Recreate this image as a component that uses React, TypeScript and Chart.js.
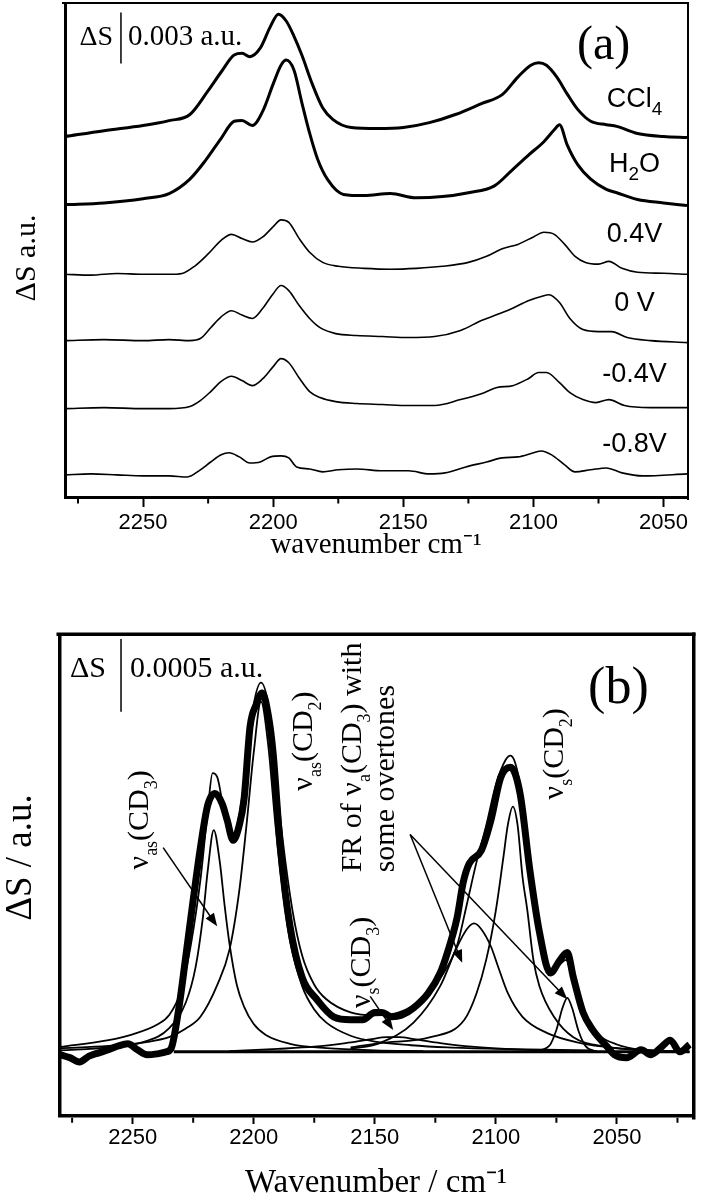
import React, { useEffect, useRef } from "react";
import { Chart, registerables } from "chart.js";

Chart.register(...registerables);

const SERIF = '"Liberation Serif", "Times New Roman", serif';
const SANS = '"Liberation Sans", Arial, sans-serif';

// ---------------- Panel (a): stacked spectra (ΔS in 10^-3 a.u.) ----------------
const aLabels = ["CCl4", "H2O", "0.4V", "0 V", "-0.4V", "-0.8V"];
const aOffsets = [21.2, 17.2, 13.1, 9.2, 5.2, 1.3];
const aTicks = [2250, 2200, 2150, 2100, 2050];
const aMinorTicks = [2275, 2225, 2175, 2125, 2075];

const wnCCl4 = [2280, 2265, 2250, 2240, 2232, 2225, 2220, 2215, 2212, 2209, 2205, 2201, 2198, 2195, 2192, 2189, 2185, 2181, 2177, 2170, 2160, 2150, 2140, 2130, 2120, 2112, 2106, 2101, 2098, 2095, 2091, 2087, 2083, 2078, 2072, 2068, 2060, 2050, 2041];
const sCCl4 = [0, 0.35, 0.65, 0.94, 1.3, 2.7, 3.8, 4.8, 4.9, 4.7, 5.2, 6.5, 7.2, 6.8, 5.9, 4.8, 3.1, 1.7, 1.0, 0.53, 0.47, 0.53, 0.82, 1.3, 1.94, 2.47, 3.5, 4.2, 4.35, 4.2, 3.5, 2.5, 1.6, 0.9, 0.7, 0.6, 0.18, 0, -0.06];

const wnH2O = [2280, 2265, 2250, 2240, 2232, 2226, 2220, 2215, 2212, 2208, 2204, 2200, 2197, 2195, 2192, 2189, 2186, 2183, 2179, 2173, 2165, 2155, 2145, 2135, 2125, 2115, 2108, 2102, 2096, 2092, 2090, 2087, 2083, 2078, 2072, 2068, 2060, 2050, 2041];
const sH2O = [0, 0.1, 0.35, 0.65, 1.5, 2.6, 3.9, 4.9, 4.95, 4.65, 5.5, 7.1, 8.2, 8.5, 7.9, 6.0, 4.2, 2.7, 1.45, 0.6, 0.53, 0.65, 0.4, 0.47, 0.7, 1.1, 2.06, 2.9, 3.7, 4.4, 4.7, 3.5, 2.35, 1.5, 0.9, 0.7, 0.3, 0.1, -0.06];

const wnP04 = [2280, 2270, 2260, 2250, 2240, 2235, 2230, 2225, 2220, 2216, 2212, 2208, 2204, 2200, 2197, 2194, 2190, 2186, 2181, 2175, 2165, 2155, 2145, 2135, 2125, 2118, 2112, 2106, 2100, 2096, 2092, 2088, 2084, 2080, 2075, 2071, 2066, 2060, 2050, 2041];
const sP04 = [0, -0.05, 0.05, 0, 0, 0.05, 0.5, 1.2, 2.0, 2.35, 2.1, 1.9, 2.2, 2.8, 3.2, 3.05, 2.1, 1.3, 0.7, 0.47, 0.35, 0.3, 0.35, 0.47, 0.7, 1.06, 1.5, 1.76, 2.2, 2.47, 2.35, 1.76, 1.06, 0.7, 0.6, 0.76, 0.35, 0.12, 0.06, 0];

const wn0V = [2280, 2265, 2250, 2240, 2232, 2228, 2224, 2220, 2216, 2212, 2208, 2204, 2200, 2197, 2194, 2190, 2186, 2182, 2176, 2168, 2158, 2148, 2138, 2128, 2120, 2114, 2108, 2102, 2097, 2094, 2090, 2086, 2081, 2075, 2070, 2064, 2055, 2041];
const s0V = [0, 0.06, 0, 0.06, 0, 0.12, 0.76, 1.4, 1.76, 1.5, 1.3, 1.9, 2.76, 3.24, 2.94, 2.06, 1.3, 0.76, 0.41, 0.3, 0.24, 0.18, 0.24, 0.6, 1.18, 1.53, 1.9, 2.35, 2.6, 2.7, 2.24, 1.3, 0.65, 0.53, 0.53, 0.18, 0, -0.12];

const wnM04 = [2280, 2265, 2250, 2240, 2232, 2228, 2224, 2220, 2216, 2212, 2208, 2204, 2200, 2197, 2194, 2190, 2186, 2182, 2176, 2168, 2158, 2148, 2138, 2128, 2120, 2114, 2108, 2102, 2098, 2095, 2090, 2086, 2081, 2076, 2071, 2065, 2055, 2041];
const sM04 = [0, 0.06, 0, 0, 0.12, 0.47, 1.0, 1.6, 1.9, 1.65, 1.35, 1.76, 2.47, 2.94, 2.7, 1.8, 1.0, 0.65, 0.41, 0.3, 0.24, 0.18, 0.18, 0.53, 0.88, 1.24, 1.35, 1.76, 2.12, 2.12, 1.53, 0.94, 0.53, 0.35, 0.53, 0.18, 0.06, 0.06];

const wnM08 = [2280, 2270, 2260, 2250, 2240, 2233, 2228, 2224, 2220, 2217, 2213, 2209, 2205, 2201, 2197, 2194, 2191, 2186, 2181, 2175, 2168, 2158, 2148, 2140, 2134, 2126, 2118, 2112, 2106, 2100, 2097, 2093, 2088, 2084, 2078, 2072, 2066, 2058, 2041];
const sM08 = [0, 0.06, 0, -0.06, -0.06, -0.12, 0.3, 0.76, 1.18, 1.3, 1.06, 0.7, 0.76, 1.06, 1.12, 1.0, 0.47, 0.35, 0.18, 0.3, 0.35, 0.24, 0.24, 0.06, 0.12, 0.47, 0.76, 1.0, 1.06, 1.3, 1.41, 1.18, 0.59, 0.18, 0.3, 0.41, 0.12, -0.06, 0.06];

// ---------------- Panel (b): spectrum and fit (ΔS in 10^-4 a.u.) ----------------
const bTicks = [2250, 2200, 2150, 2100, 2050];
const bMinorTicks = [2275, 2225, 2175, 2125, 2075, 2025];

const wnExp = [2280, 2276, 2272, 2268, 2264, 2260, 2256, 2252, 2248, 2244, 2240, 2236, 2234, 2231, 2228, 2225, 2222, 2219, 2216, 2213, 2211, 2208.5, 2206, 2204, 2201.5, 2199, 2196.5, 2194, 2192, 2189, 2185, 2180, 2174, 2167, 2160, 2155, 2150, 2147, 2143, 2139, 2134, 2128, 2123, 2120, 2116, 2113.5, 2111, 2106, 2102, 2098, 2094, 2090, 2086, 2082, 2077.5, 2073.5, 2070.5, 2068, 2064, 2060, 2054, 2051, 2046, 2040, 2036, 2032, 2028, 2024, 2020];
const sExp = [-0.2, -0.4, -0.7, -0.3, -0.07, 0.14, 0.4, 0.55, 0.14, -0.2, -0.14, 0, 0.27, 2.9, 6.6, 10.4, 14.0, 16.9, 17.7, 17.0, 15.9, 14.5, 15.5, 17.3, 22.3, 23.8, 24.6, 23.1, 20.5, 14.0, 8.6, 5.1, 3.6, 2.4, 2.2, 2.2, 2.7, 2.7, 2.4, 2.5, 3.0, 4.0, 5.4, 6.8, 9.2, 11.6, 12.9, 13.8, 15.9, 18.8, 19.5, 17.7, 12.5, 8.2, 5.4, 6.3, 6.8, 5.1, 2.7, 1.5, 0.34, -0.2, -0.4, 0.14, -0.2, 0.27, 0.8, 0, 0.5];

const wnFit = [2280, 2260, 2250, 2240, 2235, 2230, 2226, 2222, 2219, 2217, 2215, 2212, 2209, 2206, 2203, 2200, 2197, 2194, 2191, 2188, 2184, 2180, 2175, 2170, 2160, 2150, 2140, 2130, 2122, 2116, 2112, 2108, 2104, 2100, 2096, 2094, 2092, 2089, 2085, 2081, 2077, 2073.5, 2071, 2068, 2064, 2058, 2050, 2040, 2030, 2020];
const sFit = [0.34, 0.8, 1.2, 1.85, 2.5, 4.2, 7.3, 11.8, 16.5, 19.1, 18.8, 16.2, 14.6, 16.2, 19.7, 23.8, 25.3, 23.8, 19.3, 14.5, 9.7, 6.6, 4.6, 3.6, 2.7, 2.5, 2.7, 3.7, 5.3, 7.3, 10.1, 13.0, 15.5, 18.3, 20.0, 20.3, 19.8, 17.3, 11.8, 7.7, 5.6, 6.0, 6.3, 4.6, 2.5, 1.2, 0.5, 0.14, 0.07, 0];

// νas(CD3)
const wnVasCD3 = [2280, 2260, 2245, 2235, 2228, 2224, 2221, 2219, 2216.5, 2214, 2212, 2210, 2207, 2204, 2200, 2195, 2185, 2170, 2150, 2130];
const sVasCD3 = [0.1, 0.3, 0.7, 1.6, 3.4, 5.8, 9.2, 12.4, 15.2, 13.0, 10.0, 7.4, 4.6, 3.1, 1.9, 1.15, 0.55, 0.25, 0.1, 0.05];
// νas(CD2)
const wnVasCD2 = [2280, 2260, 2245, 2235, 2228, 2222, 2215, 2210, 2206, 2203, 2200, 2197, 2194, 2191, 2188, 2185, 2180, 2175, 2170, 2160, 2150, 2135, 2120, 2100, 2080, 2060];
const sVasCD2 = [0.25, 0.4, 0.65, 1.0, 1.6, 2.4, 4.6, 7.0, 11.0, 15.5, 20.5, 24.0, 21.0, 15.5, 11.0, 7.6, 4.5, 2.9, 2.0, 1.1, 0.7, 0.45, 0.3, 0.2, 0.15, 0.1];
// νs(CD3)
const wnVsCD3 = [2210, 2190, 2175, 2162, 2152, 2145, 2140, 2133, 2123, 2110, 2090, 2070];
const sVsCD3 = [0.05, 0.2, 0.35, 0.6, 0.85, 1.0, 1.0, 0.85, 0.6, 0.35, 0.15, 0.05];
// Fermi resonance band
const wnFR = [2160, 2148, 2134, 2123, 2116, 2112, 2109, 2106, 2102, 2099, 2095, 2089, 2079, 2065, 2051, 2035];
const sFR = [0.2, 0.6, 2.0, 4.5, 7.2, 8.4, 8.8, 8.4, 7.2, 5.8, 4.0, 2.4, 1.3, 0.6, 0.27, 0.1];
// νs(CD2)
const wnVsCD2 = [2160, 2148, 2127, 2113, 2108, 2104, 2100, 2097, 2095, 2093, 2091, 2089, 2087, 2084.5, 2082, 2076, 2068, 2054, 2040];
const sVsCD2 = [0.3, 0.6, 1.0, 2.2, 4.0, 6.3, 9.7, 13.2, 15.6, 16.8, 15.5, 12.0, 9.7, 6.3, 4.5, 2.4, 1.0, 0.34, 0.1];
// overtone band near 2070
const wnOvt = [2085, 2078, 2075, 2072.5, 2070.5, 2068.5, 2066, 2063, 2058];
const sOvt = [0, 0.4, 1.5, 3.0, 3.7, 3.0, 1.5, 0.4, 0];
// baseline
const wnBase = [2233, 2020];
const sBase = [0, 0];

// ---------------- helpers ----------------
type Seg = { t: string; sub?: boolean; sup?: boolean };

const pts = (xs: number[], ys: number[], off = 0) => xs.map((x, i) => ({ x, y: ys[i] + off }));

function drawRich(
  ctx: CanvasRenderingContext2D,
  segs: Seg[],
  x: number,
  y: number,
  size: number,
  family: string,
  rotate: boolean,
  align: "left" | "center" | "right",
  subScale = 0.62,
  subShift = 0.28
) {
  ctx.save();
  ctx.translate(x, y);
  if (rotate) ctx.rotate(-Math.PI / 2);
  ctx.textBaseline = "alphabetic";
  ctx.textAlign = "left";
  ctx.fillStyle = "#000";
  const fontOf = (s: Seg) => `${s.sub || s.sup ? size * subScale : size}px ${family}`;
  const widths = segs.map((s) => {
    ctx.font = fontOf(s);
    return ctx.measureText(s.t).width;
  });
  const total = widths.reduce((a, b) => a + b, 0);
  let cx = align === "center" ? -total / 2 : align === "right" ? -total : 0;
  segs.forEach((s, i) => {
    ctx.font = fontOf(s);
    const dy = s.sub ? size * subShift : s.sup ? -size * 0.38 : 0;
    ctx.fillText(s.t, cx, dy);
    cx += widths[i];
  });
  ctx.restore();
}

function arrow(ctx: CanvasRenderingContext2D, x1: number, y1: number, x2: number, y2: number) {
  const ang = Math.atan2(y2 - y1, x2 - x1);
  const L = 13;
  const W = 5;
  ctx.save();
  ctx.strokeStyle = "#000";
  ctx.fillStyle = "#000";
  ctx.lineWidth = 1.5;
  ctx.beginPath();
  ctx.moveTo(x1, y1);
  ctx.lineTo(x2 - Math.cos(ang) * L * 0.8, y2 - Math.sin(ang) * L * 0.8);
  ctx.stroke();
  ctx.beginPath();
  ctx.moveTo(x2, y2);
  ctx.lineTo(x2 - Math.cos(ang) * L - Math.sin(ang) * W, y2 - Math.sin(ang) * L + Math.cos(ang) * W);
  ctx.lineTo(x2 - Math.cos(ang) * L + Math.sin(ang) * W, y2 - Math.sin(ang) * L - Math.cos(ang) * W);
  ctx.closePath();
  ctx.fill();
  ctx.restore();
}

// annotation settings (data coordinates)
const aLabelPos = { wn: 2061.2, v: [23.53, 19.7, 15.6, 11.5, 7.35, 3.24] };
const aLabelSegs: Seg[][] = [
  [{ t: "CCl" }, { t: "4", sub: true }],
  [{ t: "H" }, { t: "2", sub: true }, { t: "O" }],
  [{ t: "0.4V" }],
  [{ t: "0 V" }],
  [{ t: "-0.4V" }],
  [{ t: "-0.8V" }],
];

const bNotes: { segs: Seg[]; wn: number; v: number }[] = [
  { segs: [{ t: "ν" }, { t: "as", sub: true }, { t: "(CD" }, { t: "3", sub: true }, { t: ")" }], wn: 2243.5, v: 12.5 },
  { segs: [{ t: "ν" }, { t: "as", sub: true }, { t: "(CD" }, { t: "2", sub: true }, { t: ")" }], wn: 2175.9, v: 17.9 },
  { segs: [{ t: "FR of ν" }, { t: "a", sub: true }, { t: "(CD" }, { t: "3", sub: true }, { t: ") with" }], wn: 2155.5, v: 12.3 },
  { segs: [{ t: "some overtones" }], wn: 2142.0, v: 12.3 },
  { segs: [{ t: "ν" }, { t: "s", sub: true }, { t: "(CD" }, { t: "3", sub: true }, { t: ")" }], wn: 2151.9, v: 3.0 },
  { segs: [{ t: "ν" }, { t: "s", sub: true }, { t: "(CD" }, { t: "2", sub: true }, { t: ")" }], wn: 2072.1, v: 17.3 },
];

const bArrows = [
  { from: [2237.4, 14.0], to: [2215.1, 8.6] },
  { from: [2151.9, 3.8], to: [2142.4, 1.5] },
  { from: [2135.4, 14.9], to: [2113.9, 6.1] },
  { from: [2135.4, 14.9], to: [2070.5, 3.6] },
];

function frameAndMinor(chart: any, minor: number[], topW: number, rightW: number, minorLen: number, borderW: number) {
  const { ctx, chartArea: ca, scales } = chart;
  const x = scales.x;
  ctx.save();
  ctx.strokeStyle = "#000";
  ctx.lineWidth = topW;
  ctx.beginPath();
  ctx.moveTo(ca.left - borderW, ca.top - topW / 2);
  ctx.lineTo(ca.right + rightW, ca.top - topW / 2);
  ctx.stroke();
  ctx.lineWidth = rightW;
  ctx.beginPath();
  ctx.moveTo(ca.right + rightW / 2, ca.top - topW);
  ctx.lineTo(ca.right + rightW / 2, ca.bottom + borderW);
  ctx.stroke();
  ctx.lineWidth = 2;
  minor.forEach((v) => {
    const px = x.getPixelForValue(v);
    ctx.beginPath();
    ctx.moveTo(px, ca.bottom + borderW / 2);
    ctx.lineTo(px, ca.bottom + borderW / 2 + minorLen);
    ctx.stroke();
  });
  ctx.restore();
}

const pluginA = {
  id: "panelA",
  afterDraw(chart: any) {
    const { ctx, scales } = chart;
    const x = scales.x;
    const y = scales.y;
    frameAndMinor(chart, aMinorTicks, 2, 2, 5, 3);
    const bx = x.getPixelForValue(2258.5);
    const by1 = y.getPixelForValue(28.5);
    const by2 = y.getPixelForValue(25.5);
    ctx.save();
    ctx.strokeStyle = "#000";
    ctx.lineWidth = 1.5;
    ctx.beginPath();
    ctx.moveTo(bx, by1);
    ctx.lineTo(bx, by2);
    ctx.stroke();
    ctx.restore();
    drawRich(ctx, [{ t: "ΔS" }], bx - 8, by1 + 32, 28, SERIF, false, "right");
    drawRich(ctx, [{ t: "0.003 a.u." }], bx + 7, by1 + 32, 29, SERIF, false, "left");
    drawRich(ctx, [{ t: "(a)" }], x.getPixelForValue(2073), y.getPixelForValue(26.5) + 0.255 * 48, 48, SERIF, false, "center");
    aLabelSegs.forEach((segs, i) => {
      const px = x.getPixelForValue(aLabelPos.wn);
      const py = y.getPixelForValue(aLabelPos.v[i]) + 0.36 * 27;
      drawRich(ctx, segs, px, py, 27, SANS, false, "center", 0.7, 0.3);
    });
  },
};

const pluginB = {
  id: "panelB",
  afterDraw(chart: any) {
    const { ctx, scales } = chart;
    const x = scales.x;
    const y = scales.y;
    frameAndMinor(chart, bMinorTicks, 3.5, 3.5, 5, 3.5);
    const bx = x.getPixelForValue(2254.8);
    const by1 = y.getPixelForValue(28.3);
    const by2 = y.getPixelForValue(23.3);
    ctx.save();
    ctx.strokeStyle = "#000";
    ctx.lineWidth = 1.5;
    ctx.beginPath();
    ctx.moveTo(bx, by1);
    ctx.lineTo(bx, by2);
    ctx.stroke();
    ctx.restore();
    drawRich(ctx, [{ t: "ΔS" }], bx - 15, by1 + 38, 30, SERIF, false, "right");
    drawRich(ctx, [{ t: "0.0005 a.u." }], bx + 9, by1 + 38, 30, SERIF, false, "left");
    drawRich(ctx, [{ t: "(b)" }], x.getPixelForValue(2049.4), y.getPixelForValue(24.8) + 0.255 * 52, 52, SERIF, false, "center");
    bNotes.forEach((n) => {
      drawRich(ctx, n.segs, x.getPixelForValue(n.wn), y.getPixelForValue(n.v), 30, SERIF, true, "left", 0.6, 0.3);
    });
    bArrows.forEach((a) => {
      arrow(
        ctx,
        x.getPixelForValue(a.from[0]),
        y.getPixelForValue(a.from[1]),
        x.getPixelForValue(a.to[0]),
        y.getPixelForValue(a.to[1])
      );
    });
  },
};

function xScale(min: number, max: number, ticks: number[], height: number, title: string, titleSize: number, tickPad: number, tickLen: number, borderW: number, titleLH: number) {
  return {
    type: "linear" as const,
    reverse: true,
    min,
    max,
    position: "bottom" as const,
    afterFit: (s: any) => {
      s.height = height;
    },
    afterBuildTicks: (s: any) => {
      s.ticks = ticks.map((v) => ({ value: v }));
    },
    ticks: {
      autoSkip: false,
      maxRotation: 0,
      padding: tickPad,
      color: "#000",
      font: { family: SANS, size: 22 },
      callback: (v: any) => String(v),
    },
    grid: {
      display: true,
      drawOnChartArea: false,
      drawTicks: true,
      tickLength: tickLen,
      tickWidth: 2,
      tickColor: "#000",
    },
    border: { display: true, color: "#000", width: borderW },
    title: {
      display: true,
      text: title,
      color: "#000",
      font: { family: SERIF, size: titleSize, lineHeight: titleLH },
      padding: { top: 0, bottom: 0 },
    },
  };
}

function yScale(min: number, max: number, width: number, title: string, titleSize: number, padTop: number, borderW: number) {
  return {
    type: "linear" as const,
    min,
    max,
    position: "left" as const,
    afterFit: (s: any) => {
      s.width = width;
    },
    ticks: { display: false },
    grid: { display: false, drawTicks: false },
    border: { display: true, color: "#000", width: borderW },
    title: {
      display: true,
      text: title,
      color: "#000",
      font: { family: SERIF, size: titleSize, lineHeight: 1 },
      padding: { top: padTop, bottom: 0 },
    },
  };
}

function PanelA() {
  const ref = useRef<HTMLCanvasElement>(null);
  useEffect(() => {
    if (!ref.current) return;
    const series = [
      [wnCCl4, sCCl4],
      [wnH2O, sH2O],
      [wnP04, sP04],
      [wn0V, s0V],
      [wnM04, sM04],
      [wnM08, sM08],
    ];
    const chart = new Chart(ref.current, {
      type: "line",
      data: {
        datasets: series.map(([xs, ys], i) => ({
          label: aLabels[i],
          data: pts(xs, ys, aOffsets[i]),
          borderColor: "#000",
          borderWidth: i < 2 ? 3 : 1.6,
          pointRadius: 0,
          cubicInterpolationMode: "monotone" as const,
          fill: false,
        })),
      },
      options: {
        animation: false,
        responsive: false,
        devicePixelRatio: 1,
        layout: { padding: { left: 0, top: 4, right: 14, bottom: 0 } },
        plugins: { legend: { display: false }, tooltip: { enabled: false } },
        scales: {
          x: xScale(2041, 2280, aTicks, 63, "wavenumber cm⁻¹", 29, 3, 10, 3, 1),
          y: yScale(0, 29, 65, "ΔS a.u.  ", 30, 12, 3),
        },
      } as any,
      plugins: [pluginA],
    });
    return () => chart.destroy();
  }, []);
  return (
    <canvas
      ref={ref}
      width={701}
      height={560}
      style={{ position: "absolute", left: 0, top: 0, width: 701, height: 560 }}
    />
  );
}

function PanelB() {
  const ref = useRef<HTMLCanvasElement>(null);
  useEffect(() => {
    if (!ref.current) return;
    const thin = (xs: number[], ys: number[], label: string) => ({
      label,
      data: pts(xs, ys),
      borderColor: "#000",
      borderWidth: 1.8,
      pointRadius: 0,
      cubicInterpolationMode: "monotone" as const,
      fill: false,
    });
    const chart = new Chart(ref.current, {
      type: "line",
      data: {
        datasets: [
          thin(wnFit, sFit, "fit"),
          thin(wnVasCD3, sVasCD3, "νas(CD3)"),
          thin(wnVasCD2, sVasCD2, "νas(CD2)"),
          thin(wnVsCD3, sVsCD3, "νs(CD3)"),
          thin(wnFR, sFR, "FR"),
          thin(wnVsCD2, sVsCD2, "νs(CD2)"),
          thin(wnOvt, sOvt, "overtone"),
          { ...thin(wnBase, sBase, "baseline"), borderWidth: 3 },
          {
            label: "experiment",
            data: pts(wnExp, sExp),
            borderColor: "#000",
            borderWidth: 7,
            pointRadius: 0,
            cubicInterpolationMode: "monotone" as const,
            fill: false,
          },
        ],
      },
      options: {
        animation: false,
        responsive: false,
        devicePixelRatio: 1,
        layout: { padding: { left: 0, top: 76, right: 9, bottom: 0 } },
        plugins: { legend: { display: false }, tooltip: { enabled: false } },
        scales: {
          x: xScale(2019, 2280, bTicks, 83, "Wavenumber / cm⁻¹", 33, 1, 8, 3.5, 0.95),
          y: yScale(-4.4, 28.5, 60, "    ΔS / a.u.", 37, 2.5, 3.5),
        },
      } as any,
      plugins: [pluginB],
    });
    return () => chart.destroy();
  }, []);
  return (
    <canvas
      ref={ref}
      width={701}
      height={639}
      style={{ position: "absolute", left: 0, top: 560, width: 701, height: 639 }}
    />
  );
}

export default function App() {
  return (
    <div style={{ position: "absolute", left: 0, top: 0, width: 701, height: 1199, background: "#fff", overflow: "hidden" }}>
      <PanelA />
      <PanelB />
    </div>
  );
}
